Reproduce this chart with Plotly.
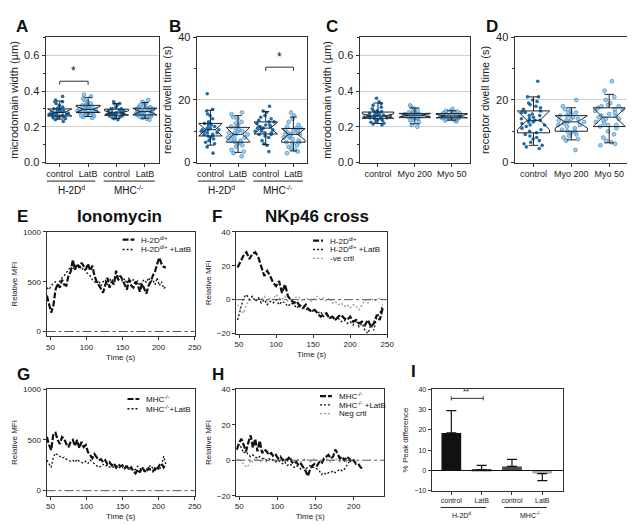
import numpy as np
import plotly.graph_objects as go

W, H = 635, 525
FONT = "Arial, 'Liberation Sans', sans-serif"

# ---------------- data ----------------
# Panel A: microdomain width (um)
A_groups = ["control", "LatB", "control", "LatB"]
A_h2d_ctrl = [0.23, 0.24, 0.245, 0.25, 0.25, 0.255, 0.26, 0.26, 0.26, 0.265, 0.265, 0.27, 0.27, 0.27, 0.275, 0.275,
              0.28, 0.28, 0.28, 0.285, 0.29, 0.29, 0.295, 0.30, 0.30, 0.305, 0.31, 0.32, 0.33, 0.34, 0.34, 0.35, 0.37]
A_h2d_latb = [0.25, 0.255, 0.26, 0.26, 0.27, 0.275, 0.28, 0.28, 0.28, 0.285, 0.29, 0.29, 0.295, 0.30, 0.30, 0.30,
              0.305, 0.31, 0.31, 0.315, 0.32, 0.32, 0.325, 0.33, 0.34, 0.35, 0.36, 0.37, 0.38, 0.29, 0.27, 0.28]
A_mhc_ctrl = [0.24, 0.245, 0.25, 0.255, 0.26, 0.26, 0.265, 0.265, 0.27, 0.27, 0.27, 0.275, 0.275, 0.28, 0.28, 0.28,
              0.285, 0.29, 0.29, 0.295, 0.30, 0.30, 0.30, 0.31, 0.32, 0.33, 0.33, 0.34, 0.26, 0.27]
A_mhc_latb = [0.24, 0.245, 0.25, 0.255, 0.26, 0.26, 0.265, 0.27, 0.27, 0.275, 0.28, 0.28, 0.285, 0.285, 0.29, 0.29,
              0.295, 0.30, 0.30, 0.305, 0.31, 0.31, 0.32, 0.32, 0.33, 0.34, 0.35, 0.27, 0.29, 0.26]

# Panel B: receptor dwell time (s)
B_groups = ["control", "LatB", "control", "LatB"]
B_h2d_ctrl = [3, 5, 6, 6.5, 7, 7.5, 8, 8.5, 8.5, 9, 9, 9.5, 10, 10, 10.5, 10.5, 11, 11, 11.5, 12, 12, 12.5, 12.5, 13,
              14, 15, 15.5, 16.5, 17, 22, 9.5, 10.5]
B_h2d_latb = [2, 3, 3.5, 4, 5, 5.5, 6, 6.5, 6.5, 7, 7.5, 8, 8, 8.5, 9, 9, 9.5, 10, 10, 10.5, 11, 11.5, 12, 12.5, 13,
              14, 14.5, 15.5, 16, 7, 9.5]
B_mhc_ctrl = [3.5, 5.5, 6, 7, 8, 8.5, 9, 9, 9.5, 10, 10, 10.5, 11, 11, 11.5, 12, 12, 12.5, 13, 13, 13.5, 14, 14.5, 15,
              16, 16.5, 18, 10.5, 11.5, 9.5]
B_mhc_latb = [3, 3.5, 4, 4.5, 5, 5.5, 6, 6.5, 6.5, 7, 7.5, 8, 8.5, 9, 9, 9, 9.5, 10, 10, 10.5, 11, 11, 11.5, 12, 13,
              14, 15, 16, 8, 9.5]

# Panel C: microdomain width (um)
C_groups = ["control", "Myo 200", "Myo 50"]
C_ctrl = [0.21, 0.215, 0.22, 0.225, 0.23, 0.235, 0.24, 0.245, 0.245, 0.25, 0.25, 0.25, 0.255, 0.255, 0.26, 0.26, 0.26,
          0.265, 0.265, 0.27, 0.27, 0.275, 0.28, 0.28, 0.285, 0.29, 0.29, 0.30, 0.31, 0.32, 0.33, 0.34, 0.36, 0.25, 0.26]
C_myo200 = [0.20, 0.21, 0.225, 0.235, 0.24, 0.245, 0.25, 0.25, 0.255, 0.26, 0.26, 0.26, 0.265, 0.265, 0.265, 0.27,
            0.27, 0.27, 0.275, 0.275, 0.28, 0.28, 0.285, 0.29, 0.30, 0.31, 0.32, 0.255, 0.265, 0.27]
C_myo50 = [0.23, 0.235, 0.24, 0.24, 0.245, 0.245, 0.25, 0.25, 0.25, 0.255, 0.255, 0.26, 0.26, 0.26, 0.26, 0.265, 0.265,
           0.27, 0.27, 0.27, 0.275, 0.275, 0.28, 0.28, 0.285, 0.29, 0.29, 0.30, 0.25, 0.26]

# Panel D: receptor dwell time (s)
D_groups = ["control", "Myo 200", "Myo 50"]
D_ctrl = [4.5, 5, 5.5, 6, 6.5, 7, 7.5, 8, 8.5, 9, 9.5, 10, 10.5, 11, 11.5, 12, 12.5, 13, 13, 13.5, 13.5, 14, 14.5, 15,
          15.5, 16, 16, 16.5, 17, 17.5, 18, 18.5, 19, 19.5, 20, 21, 21, 26, 12, 14, 15]
D_myo200 = [4, 7, 7.5, 8, 8.5, 9, 9.5, 10, 10, 10.5, 11, 11.5, 12, 12.5, 13, 13, 13.5, 14, 14, 14.5, 15, 15, 15.5, 16,
            16, 16.5, 17, 18, 20, 12, 13.5]
D_myo50 = [5.5, 6, 6.5, 7, 8, 9, 10, 11, 11.5, 12, 12, 12.5, 13, 13.5, 14, 14.5, 15, 15, 15.5, 16, 16.5, 17, 17.5, 18,
           18, 18.5, 19, 20, 21, 23, 26, 14, 17]

# Panels E & G: Ionomycin time courses (Relative MFI)
time_iono = [45, 48, 51, 54, 57, 60, 63, 66, 69, 72, 75, 78, 81, 84, 87, 90, 93, 96, 99, 102, 105, 108, 111, 114, 117,
             120, 123, 126, 129, 132, 135, 138, 141, 144, 147, 150, 153, 156, 159, 162, 165, 168, 171, 174, 177, 180,
             183, 186, 189, 192, 195, 198, 201, 204, 207, 210]
E_h2d = [360, 280, 190, 260, 420, 480, 440, 520, 470, 460, 560, 600, 720, 620, 680, 640, 690, 660, 620, 680,
         610, 660, 560, 500, 470, 430, 390, 470, 540, 440, 500, 470, 610, 520, 560, 520, 470, 420, 520, 460,
         440, 500, 470, 400, 480, 420, 380, 460, 500, 560, 600, 680, 740, 680, 650, 640]
E_h2d_latb = [440, 420, 460, 480, 500, 470, 510, 540, 560, 590, 620, 650, 620, 660, 640, 670, 620, 640, 600, 580,
              560, 520, 500, 480, 510, 460, 500, 520, 470, 530, 500, 540, 560, 510, 550, 500, 530, 480, 540, 500,
              520, 480, 510, 460, 500, 520, 490, 540, 500, 520, 470, 540, 460, 500, 430, 450]
G_mhc = [530, 450, 400, 560, 570, 500, 460, 530, 510, 460, 430, 480, 500, 440, 500, 420, 480, 430, 450, 380,
         350, 320, 360, 330, 300, 310, 280, 300, 260, 280, 250, 270, 230, 260, 240, 250, 220, 240, 210, 230,
         190, 170, 210, 180, 230, 200, 180, 220, 200, 190, 220, 200, 250, 270, 230, 260]
G_mhc_latb = [300, 260, 230, 330, 370, 350, 340, 320, 330, 310, 300, 290, 300, 280, 310, 290, 280, 270, 290, 270,
              300, 280, 270, 250, 230, 240, 260, 240, 250, 230, 240, 230, 220, 240, 220, 230, 250, 220, 210, 220,
              200, 210, 240, 220, 200, 190, 210, 230, 250, 220, 200, 230, 210, 240, 340, 260]

# Panel F: NKp46 cross (Relative MFI)
time_F = [48, 52, 56, 60, 64, 68, 72, 76, 80, 84, 88, 92, 96, 100, 104, 108, 112, 116, 120, 124, 128, 132, 136, 140,
          144, 148, 152, 156, 160, 164, 168, 172, 176, 180, 184, 188, 192, 196, 200, 204, 208, 212, 216, 220, 224,
          228, 232, 236, 240, 244]
F_h2d = [19, 23, 26, 28, 24, 27, 28, 25, 19, 14, 17, 14, 10, 8, 11, 4, 9, 2, 0, -2,
         -1, -4, -5, -3, -6, -7, -6, -8, -10, -9, -8, -11, -10, -12, -10, -9, -11, -12, -10, -13,
         -12, -14, -13, -15, -12, -16, -14, -9, -12, -5]
F_h2d_latb = [-12, -6, 1, 3, 0, 2, -1, 1, -2, 0, -3, -1, -2, 0, -3, -1, -2, -4, -2, -3,
              -5, -3, -4, -6, -5, -7, -6, -8, -7, -10, -9, -11, -10, -12, -11, -13, -12, -14, -13, -15,
              -12, -16, -14, -18, -20, -15, -18, -10, -8, -3]
F_neg = [-3, -6, -8, -3, 0, 2, -1, 1, 0, 2, -1, 1, 0, 3, 1, 0, 2, -1, 1, 0,
         2, 1, -1, 1, 0, -1, 1, 2, 0, 1, -1, 1, -2, -1, -3, -2, -4, -3, -5, -3,
         -4, -6, -3, 0, -2, 1, -1, 0, 1, 0]

# Panel H: NKp46 cross, MHC-/- (Relative MFI)
time_H = [47, 50, 53, 56, 59, 62, 65, 68, 71, 74, 77, 80, 83, 86, 89, 92, 95, 98, 101, 104, 107, 110, 113, 116, 119,
          122, 125, 128, 131, 134, 137, 140, 143, 146, 149, 152, 155, 158, 161, 164, 167, 170, 173, 176, 179, 182,
          185, 188, 191, 194, 197, 200, 203, 206, 209, 212]
H_mhc = [6, 10, 12, 9, 5, 10, 14, 7, 12, 5, 11, 4, 6, 5, 3, 4, 2, 3, 1, 2,
         0, 1, 0, 2, -1, -2, -1, -3, -2, -4, -6, -9, -5, -3, -2, -3, -1, -2, 1, 2,
         3, 1, 2, 6, 3, 1, 2, 0, 2, 1, -1, 0, -2, -2, -4, -5]
H_mhc_latb = [6, 9, 7, 4, 5, 3, 2, 3, 2, 1, 2, 1, 1, 0, 1, 0, 0, -1, 0, -1,
              -2, -1, -3, -2, -3, -4, -3, -4, -5, -4, -5, -4, -3, -4, -4, -5, -6, -8, -7, -8,
              -7, -7, -6, -7, -6, -5, -6, -5, -3, -1, 0]
H_neg = [0, 1, -1, -2, -4, -3, 0, -1, 1, 0, -1, 0, 1, -1, 0, 1, 0, -1, 0, 1,
         0, -1, 0, 1, 0, -1, 0, 0, -1, 0, 1, 0, -1, 0, 1, 0, -1, 0, 0, 1,
         0, -1, 0, 1, 0, -1, 0, 0, -1, 0, 0, 0]

# Panel I: % peak difference
I_labels = ["control", "LatB", "control", "LatB"]
I_values = [18.5, 0.3, 2.0, -1.5]
I_errors = [11.0, 2.2, 3.5, 3.5]
I_colors = ["#111111", "#111111", "#4a4a4a", "#a8a8a8"]

# ---------------- helpers ----------------
def xd(a, b):
    return [a / W, b / W]


def yd(top, bottom):
    return [1 - bottom / H, 1 - top / H]


def px(p):
    return p / W


def py(p):
    return 1 - p / H


DARK = "#1f6cab"
LIGHT_FILL = "rgba(140,190,230,0.75)"
LIGHT_LINE = "#3a8ccc"
DARK_MARKER = dict(color=DARK, size=3.6, line=dict(width=0))
LIGHT_MARKER = dict(color=LIGHT_FILL, size=3.8, line=dict(color=LIGHT_LINE, width=0.7))

fig = go.Figure()


def ax_names(n):
    return ("x" if n == 1 else f"x{n}"), ("y" if n == 1 else f"y{n}")


def add_box_panel(n, groups, dark_flags):
    """groups: list of value lists (one per category position)."""
    xa, ya = ax_names(n)
    for flag, marker in [(True, DARK_MARKER), (False, LIGHT_MARKER)]:
        xs, ys = [], []
        for pos, (vals, dk) in enumerate(zip(groups, dark_flags)):
            if dk == flag:
                xs += [pos] * len(vals)
                ys += list(vals)
        if xs:
            fig.add_trace(go.Box(x=xs, y=ys, xaxis=xa, yaxis=ya, boxpoints="all", jitter=0.9,
                                 pointpos=0, width=0.85, fillcolor="rgba(0,0,0,0)",
                                 line=dict(width=0, color="rgba(0,0,0,0)"), marker=marker,
                                 showlegend=False, hoverinfo="y"))
    q1s, meds, q3s, los, his, notches = [], [], [], [], [], []
    for vals in groups:
        v = np.asarray(vals, dtype=float)
        q1, med, q3 = np.percentile(v, [25, 50, 75])
        lo, hi = np.percentile(v, [5, 95])
        q1s.append(q1); meds.append(med); q3s.append(q3); los.append(lo); his.append(hi)
        notches.append(min(med - q1, q3 - med))
    fig.add_trace(go.Box(x=list(range(len(groups))), q1=q1s, median=meds, q3=q3s, lowerfence=los, upperfence=his,
                         notchspan=notches, notched=True, notchwidth=0.3, width=0.85, whiskerwidth=0.3,
                         boxpoints=False, fillcolor="rgba(0,0,0,0)", line=dict(color="#222", width=1),
                         xaxis=xa, yaxis=ya, showlegend=False))


add_box_panel(1, [A_h2d_ctrl, A_h2d_latb, A_mhc_ctrl, A_mhc_latb], [True, False, True, False])
add_box_panel(2, [B_h2d_ctrl, B_h2d_latb, B_mhc_ctrl, B_mhc_latb], [True, False, True, False])
add_box_panel(3, [C_ctrl, C_myo200, C_myo50], [True, False, False])
add_box_panel(4, [D_ctrl, D_myo200, D_myo50], [True, False, False])

DASH = dict(color="#111", width=2.2, dash="6px,2px")
DOT = dict(color="#111", width=1.3, dash="2px,2px")
GREY = dict(color="#9a9a9a", width=1.3, dash="2px,2px")


def line(n, x, y, style):
    xa, ya = ax_names(n)
    fig.add_trace(go.Scatter(x=x, y=y, mode="lines", line=style, xaxis=xa, yaxis=ya, showlegend=False))


line(5, time_iono, E_h2d_latb, DOT)
line(5, time_iono, E_h2d, DASH)
line(6, time_F, F_neg, GREY)
line(6, time_F, F_h2d_latb, DOT)
line(6, time_F, F_h2d, DASH)
line(7, time_iono, G_mhc_latb, DOT)
line(7, time_iono, G_mhc, DASH)
line(8, time_H[:len(H_neg)], H_neg, GREY)
line(8, time_H[:len(H_mhc_latb)], H_mhc_latb, DOT)
line(8, time_H, H_mhc, DASH)

# Panel I bars
err_up = [e if v >= 0 else 0 for v, e in zip(I_values, I_errors)]
err_dn = [e if v < 0 else 0 for v, e in zip(I_values, I_errors)]
fig.add_trace(go.Bar(x=list(range(len(I_values))), y=I_values, width=0.65, marker=dict(color=I_colors, line=dict(width=0)),
                     error_y=dict(type="data", symmetric=False, array=err_up, arrayminus=err_dn,
                                  color="#111", thickness=1.2, width=5),
                     xaxis="x9", yaxis="y9", showlegend=False))

# ---------------- axes ----------------
def axis(fs, **kw):
    d = dict(showline=True, linecolor="#333", linewidth=1, mirror=True, ticks="outside", ticklen=3, tickwidth=1,
             tickcolor="#333", showgrid=False, zeroline=False, tickangle=0,
             tickfont=dict(size=fs, color="#222", family=FONT))
    d.update(kw)
    return d


GRID = "#d0d0d0"
TITLE11 = dict(size=11, family=FONT, color="#222")
MINOR_W = dict(dtick=0.1, ticklen=2, ticks="outside", tickcolor="#333")
MINOR_T = dict(dtick=10, ticklen=2, ticks="outside", tickcolor="#333")
layout = {}
# A
layout["xaxis"] = axis(9, domain=xd(37, 152), anchor="y", range=[-0.5, 3.5], tickvals=[0, 1, 2, 3], ticktext=A_groups)
layout["yaxis"] = axis(11, domain=yd(24, 152), anchor="x", range=[0, 0.7], tickvals=[0, 0.2, 0.4, 0.6], tickformat=".1f",
                       showgrid=True, gridcolor=GRID, minor=MINOR_W,
                       title=dict(text="microdomain width (µm)", font=TITLE11, standoff=4))
# B
layout["xaxis2"] = axis(9, domain=xd(190, 302), anchor="y2", range=[-0.5, 3.5], tickvals=[0, 1, 2, 3], ticktext=B_groups)
layout["yaxis2"] = axis(11, domain=yd(24, 152), anchor="x2", range=[0, 40], tickvals=[0, 20, 40],
                        showgrid=True, gridcolor=GRID, minor=MINOR_T,
                        title=dict(text="receptor dwell time (s)", font=TITLE11, standoff=4))
# C
layout["xaxis3"] = axis(9, domain=xd(355, 467), anchor="y3", range=[-0.5, 2.5], tickvals=[0, 1, 2], ticktext=C_groups)
layout["yaxis3"] = axis(11, domain=yd(24, 152), anchor="x3", range=[0, 0.7], tickvals=[0, 0.2, 0.4, 0.6], tickformat=".1f",
                        showgrid=True, gridcolor=GRID, minor=MINOR_W,
                        title=dict(text="microdomain width (µm)", font=TITLE11, standoff=4))
# D
layout["xaxis4"] = axis(9, domain=xd(512, 627), anchor="y4", range=[-0.5, 2.5], tickvals=[0, 1, 2], ticktext=D_groups)
layout["yaxis4"] = axis(11, domain=yd(24, 152), anchor="x4", range=[0, 40], tickvals=[0, 20, 40],
                        showgrid=True, gridcolor=GRID, minor=MINOR_T,
                        title=dict(text="receptor dwell time (s)", font=TITLE11, standoff=4))

TFONT = dict(size=8, family=FONT, color="#222")
# E
layout["xaxis5"] = axis(8, domain=xd(38, 188), anchor="y5", range=[44.5, 250], tickvals=[50, 100, 150, 200, 250],
                        title=dict(text="Time (s)", font=TFONT, standoff=3))
layout["yaxis5"] = axis(8, domain=yd(223, 330), anchor="x5", range=[-50, 1000], tickvals=[0, 500, 1000],
                        title=dict(text="Relative MFI", font=TFONT, standoff=4))
# F
layout["xaxis6"] = axis(8, domain=xd(230, 383), anchor="y6", range=[46, 250], tickvals=[50, 100, 150, 200, 250],
                        title=dict(text="Time (s)", font=TFONT, standoff=3))
layout["yaxis6"] = axis(8, domain=yd(223, 327), anchor="x6", range=[-20, 40], tickvals=[-20, 0, 20, 40],
                        title=dict(text="Relative MFI", font=TFONT, standoff=4))
# G
layout["xaxis7"] = axis(8, domain=xd(38, 188), anchor="y7", range=[44.5, 250], tickvals=[50, 100, 150, 200, 250],
                        title=dict(text="Time (s)", font=TFONT, standoff=3))
layout["yaxis7"] = axis(8, domain=yd(384, 493), anchor="x7", range=[-50, 1000], tickvals=[0, 500, 1000],
                        title=dict(text="Relative MFI", font=TFONT, standoff=4))
# H
layout["xaxis8"] = axis(8, domain=xd(230, 380), anchor="y8", range=[46, 240], tickvals=[50, 100, 150, 200],
                        title=dict(text="Time (s)", font=TFONT, standoff=3))
layout["yaxis8"] = axis(8, domain=yd(384, 493), anchor="x8", range=[-20, 40], tickvals=[-20, 0, 20, 40],
                        title=dict(text="Relative MFI", font=TFONT, standoff=4))
# I
layout["xaxis9"] = axis(7, domain=xd(428, 561), anchor="y9", range=[-0.65, 3.68], tickvals=[0, 1, 2, 3], ticktext=I_labels)
layout["yaxis9"] = axis(7, domain=yd(384, 488), anchor="x9", range=[-10, 40], tickvals=[-10, 0, 10, 20, 30, 40],
                        title=dict(text="% Peak difference", font=dict(size=8, family=FONT, color="#222"), standoff=4))

fig.update_layout(**layout)

# ---------------- annotations & decorations ----------------
ann = []
shapes = []


def text(xp, yp, t, size, bold=False, xanchor="center", yanchor="middle", xref="paper", yref="paper", color="#111"):
    ann.append(dict(x=xp, y=yp, xref=xref, yref=yref, text=(f"<b>{t}</b>" if bold else t), showarrow=False,
                    xanchor=xanchor, yanchor=yanchor, font=dict(size=size, family=FONT, color=color)))


# panel letters
for letter, (lx, ly) in {"A": (5, 13), "B": (160, 13), "C": (319, 13), "D": (481, 13), "E": (6, 207),
                         "F": (204, 207), "G": (6, 369), "H": (204, 369), "I": (405, 366)}.items():
    text(px(lx), py(ly), letter, 17, bold=True, xanchor="left")

text(px(112), py(207), "Ionomycin", 17, bold=True)
text(px(312), py(207), "NKp46 cross", 17, bold=True)

# group labels for A and B
for xr in ["x", "x2"]:
    for (a, b, lab, c) in [(-0.45, 1.25, "H-2D<sup>d</sup>", 0.4), (1.55, 3.35, "MHC<sup>-/-</sup>", 2.45)]:
        shapes.append(dict(type="line", xref=xr, yref="paper", x0=a, x1=b, y0=py(171), y1=py(171),
                           line=dict(color="#222", width=1)))
        text(c, py(180), lab, 10, xref=xr)

# group labels for I
for (a, b, lab, c) in [(-0.35, 1.15, "H-2D<sup>d</sup>", 0.35), (1.75, 3.15, "MHC<sup>-/-</sup>", 2.6)]:
    shapes.append(dict(type="line", xref="x9", yref="paper", x0=a, x1=b, y0=py(505), y1=py(505),
                       line=dict(color="#222", width=1)))
    text(c, py(513), lab, 7, xref="x9")

# significance brackets
shapes.append(dict(type="path", xref="x", yref="y", path="M 0 0.435 L 0 0.455 L 1 0.455 L 1 0.435",
                   line=dict(color="#333", width=1)))
text(0.5, 0.462, "*", 12, xref="x", yref="y", yanchor="bottom")
shapes.append(dict(type="path", xref="x2", yref="y2", path="M 2 29.3 L 2 30.5 L 3 30.5 L 3 29.3",
                   line=dict(color="#333", width=1)))
text(2.5, 31, "*", 12, xref="x2", yref="y2", yanchor="bottom")
shapes.append(dict(type="path", xref="x9", yref="y9", path="M 0 34.5 L 0 36.5 M 0 35.5 L 1.05 35.5 M 1.05 34.5 L 1.05 36.5",
                   line=dict(color="#333", width=1)))
text(0.5, 35.8, "**", 8, xref="x9", yref="y9", yanchor="bottom")

# zero reference lines
for n in [5, 6, 7, 8]:
    shapes.append(dict(type="line", xref=f"x{n} domain", yref=f"y{n}", x0=0, x1=1, y0=0, y1=0,
                       line=dict(color="#555", width=1, dash="dashdot")))
shapes.append(dict(type="line", xref="x9 domain", yref="y9", x0=0, x1=1, y0=0, y1=0,
                   line=dict(color="#111", width=1.2)))


# custom legends
def legend_entry(x0, y0, t, style, ln=12):
    shapes.append(dict(type="line", xref="paper", yref="paper", x0=px(x0), x1=px(x0 + ln), y0=py(y0), y1=py(y0),
                       line=style))
    text(px(x0 + ln + 5), py(y0), t, 8, xanchor="left")


legend_entry(115, 231, "H-2D<sup>d/+</sup>", DASH)
legend_entry(115, 241, "H-2D<sup>d/+</sup> +LatB", DOT)
legend_entry(308, 232, "H-2D<sup>d/+</sup>", DASH, 10)
legend_entry(308, 241, "H-2D<sup>d/+</sup> +LatB", DOT, 10)
legend_entry(308, 250, "-ve crtl", GREY, 10)
legend_entry(120, 394, "MHC<sup>-/-</sup>", DASH)
legend_entry(120, 404, "MHC<sup>-/-</sup>+LatB", DOT)
legend_entry(315, 391, "MHC<sup>-/-</sup>", DASH)
legend_entry(315, 400, "MHC<sup>-/-</sup> +LatB", DOT)
legend_entry(315, 409, "Neg crtl", GREY)

fig.update_layout(width=W, height=H, margin=dict(l=0, r=0, t=0, b=0), autosize=False,
                  paper_bgcolor="white", plot_bgcolor="white", boxmode="overlay", bargap=0.3,
                  annotations=ann, shapes=shapes, font=dict(family=FONT, color="#222"))

fig.write_html("out.html")
